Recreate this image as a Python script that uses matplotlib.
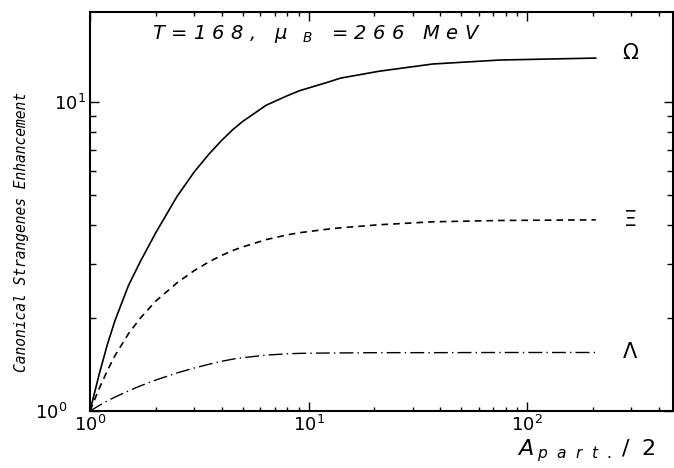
import matplotlib
matplotlib.use("Agg")
import matplotlib.pyplot as plt
import matplotlib.transforms as mtransforms
from matplotlib.ticker import LogLocator, NullFormatter

# Data
a_part = [1, 1.1, 1.2, 1.3, 1.5, 1.7, 2, 2.5, 3, 3.5, 4, 4.5, 5, 6.4, 8, 9.1,
          12.2, 14, 21, 37, 75, 206]
omega = [1, 1.31, 1.64, 1.96, 2.55, 3.05, 3.78, 4.95, 5.95, 6.79, 7.52, 8.15,
         8.67, 9.78, 10.5, 10.9, 11.6, 11.97, 12.6, 13.3, 13.7, 13.9]
xi = [1, 1.18, 1.35, 1.51, 1.78, 2.00, 2.27, 2.60, 2.85, 3.04, 3.19, 3.31,
      3.40, 3.59, 3.72, 3.78, 3.88, 3.92, 4.01, 4.10, 4.14, 4.16]
lam = [1, 1.041, 1.078, 1.109, 1.162, 1.206, 1.26, 1.328, 1.378, 1.417, 1.449,
       1.472, 1.488, 1.517, 1.532, 1.537, 1.541, 1.542, 1.545, 1.545, 1.547, 1.547]
labels = ["Ω", "Ξ", "Λ"]
y_major = [1, 10]

fig = plt.figure(figsize=(6.74, 4.68), dpi=100)
ax = fig.add_axes([90 / 674, 57 / 468, 583 / 674, 399 / 468])

ax.plot(a_part, omega, color="black", lw=1.2, ls="-")
ax.plot(a_part, xi, color="black", lw=1.2, ls=(0, (4, 3)))
ax.plot(a_part, lam, color="black", lw=1.0, ls=(0, (10, 3, 1, 3)))

ax.set_xscale("log")
ax.set_yscale("log")
ax.set_xlim(1, 465)
ax.set_ylim(1, 19.6)

ax.xaxis.set_major_locator(LogLocator(base=10))
ax.xaxis.set_minor_locator(LogLocator(base=10, subs=range(2, 10)))
ax.set_yticks(y_major)
ax.yaxis.set_minor_locator(LogLocator(base=10, subs=range(2, 10)))
ax.xaxis.set_minor_formatter(NullFormatter())
ax.yaxis.set_minor_formatter(NullFormatter())

ax.tick_params(which="both", direction="in", top=True, right=True, labelsize=13)
ax.tick_params(which="major", length=6.5, width=1.0)
ax.tick_params(axis="x", which="minor", length=3, width=1.0)
ax.tick_params(axis="y", which="minor", length=4.5, width=1.0)
ax.tick_params(axis="x", pad=3)
ax.tick_params(axis="y", pad=16)
yt = ax.yaxis.get_major_ticks()
yt[1].set_pad(3)
for s in ax.spines.values():
    s.set_linewidth(1.5)

# curve labels
trans = mtransforms.blended_transform_factory(ax.transAxes, ax.transData)
ends = [omega[-1], xi[-1], lam[-1]]
offs = [4, 0, 0]
for lab, yv, o in zip(labels, ends, offs):
    ax.annotate(lab, xy=(0.927, yv), xycoords=trans, xytext=(0, o),
                textcoords="offset points", ha="center", va="center",
                fontsize=15, family="DejaVu Sans")

sp = "\u2004"
top = (sp.join("T=168,") + "  " + sp + r"$\mu_{\quad\,B}$" + "   " +
       sp.join("=266") + "   " + sp.join("MeV"))
ax.text((152 - 90) / 583, (410 - 33.5) / 398, top, transform=ax.transAxes,
        ha="left", va="center", fontsize=14, style="italic")

fig.text(517 / 674, 1 - 455 / 468,
         r"$A_{\;p\ \;a\ \;r\ \;t\ \;.}\;/\ \;2$", ha="left",
         va="baseline", fontsize=16)
fig.text(22 / 674, 1 - 232 / 468, "Canonical Strangenes Enhancement", rotation=90,
         ha="center", va="center", fontsize=10.5, style="italic",
         family="DejaVu Sans Mono")

fig.savefig("out.png", dpi=100)
